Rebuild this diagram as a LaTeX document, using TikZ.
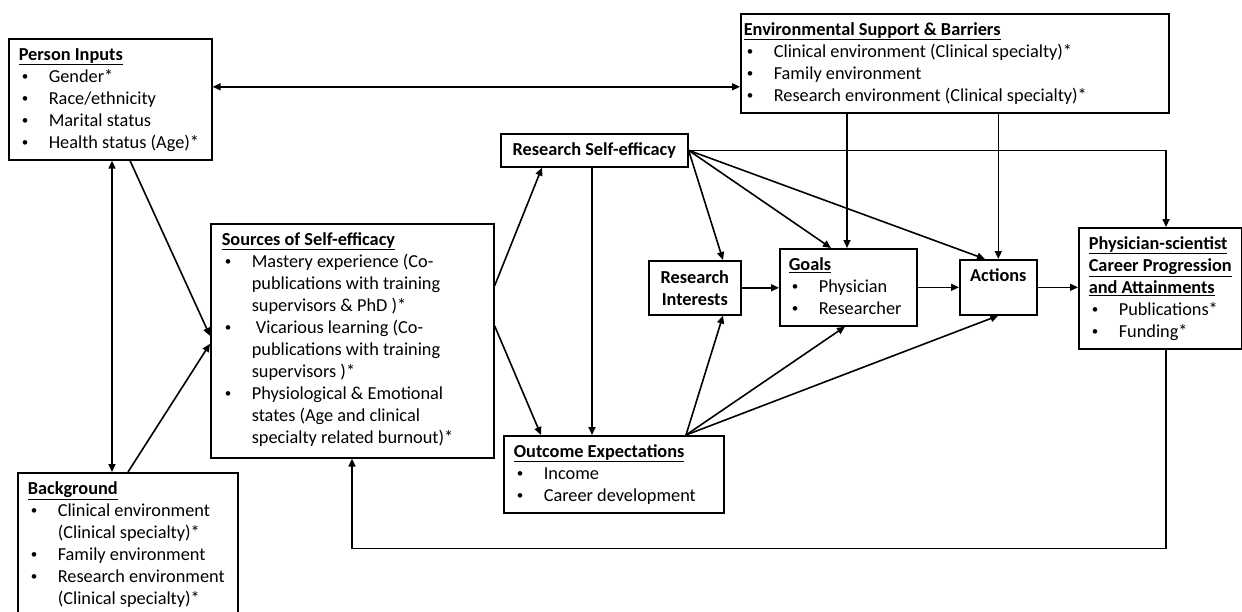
\documentclass[tikz,border=0pt]{standalone}
\usepackage{fontspec}
\setmainfont{Carlito}
\usetikzlibrary{arrows.meta}

\newcommand{\panelbody}[4]{\parbox[t][#2][t]{#1}{\raggedright\leftskip=#3\relax\vspace*{6pt}\strut#4}}
\newcommand{\ptitle}[1]{\underline{\textbf{#1}}}
\newcommand{\bitem}[1]{\par\hangindent=30pt\hangafter=1\noindent\makebox[30pt][l]{\hspace{3pt}\raisebox{1.5pt}{\fontsize{13}{13}\selectfont\textbullet}}#1}

\begin{document}
\begin{tikzpicture}[x=1pt,y=-1pt,
  panel/.style={draw,line width=1.6pt,inner sep=0pt,anchor=north west,font=\fontsize{18.3}{22}\selectfont},
  arr/.style={line width=1.6pt,-{Triangle[length=8pt,width=7pt]}},
  dbl/.style={line width=1.6pt,{Triangle[length=8pt,width=7pt]}-{Triangle[length=8pt,width=7pt]}}]
\useasboundingbox (0,0) rectangle (1242,611);

% boxes
\node[panel] (pin) at (8,38) {\panelbody{203pt}{121pt}{10pt}{\ptitle{Person Inputs}
  \bitem{Gender*}\bitem{Race/ethnicity}\bitem{Marital status}\bitem{Health status (Age)*}}};
\node[panel] (bg) at (17,472) {\panelbody{220pt}{160pt}{10pt}{\ptitle{Background}
  \bitem{Clinical environment\newline(Clinical specialty)*}\bitem{Family environment}
  \bitem{Research environment\newline(Clinical specialty)*}}};
\node[panel] (src) at (210,223) {\panelbody{283pt}{234pt}{11pt}{\ptitle{Sources of Self-efficacy}
  \bitem{Mastery experience (Co-\newline publications with training\newline supervisors \& PhD )*}
  \bitem{\ Vicarious learning (Co-\newline publications with training\newline supervisors )*}
  \bitem{Physiological \& Emotional\newline states (Age and clinical\newline specialty related burnout)*}}};
\node[panel] (env) at (740,13) {\panelbody{428pt}{99pt}{3pt}{\ptitle{Environmental Support \& Barriers}
  \bitem{Clinical environment (Clinical specialty)*}\bitem{Family environment}
  \bitem{Research environment (Clinical specialty)*}}};
\node[panel,font=\fontsize{18.3}{22}\selectfont\bfseries,minimum width=187pt,minimum height=33pt] (rse) at (500,133) {Research Self-efficacy};
\node[panel,font=\fontsize{18.3}{22}\selectfont\bfseries,minimum width=92pt,minimum height=54pt,align=center] (ri) at (648,260) {Research\\Interests};
\node[panel] (goals) at (779,248) {\panelbody{137pt}{77pt}{9pt}{\ptitle{Goals}\bitem{Physician}\bitem{Researcher}}};
\node[panel] (act) at (959,259) {\parbox[t][55pt][t]{77pt}{\centering\vspace*{6pt}\strut\textbf{Actions}}};
\node[panel] (phy) at (1078,227) {\panelbody{163pt}{121pt}{10pt}{\ptitle{Physician-scientist}\newline
  \ptitle{Career Progression}\newline\ptitle{and Attainments}
  \bitem{Publications*}\bitem{Funding*}}};
\node[panel] (out) at (503,435) {\panelbody{220pt}{77pt}{10pt}{\ptitle{Outcome Expectations}
  \bitem{Income}\bitem{Career development}}};

% connectors
\draw[dbl] ([yshift=12.5pt]pin.east) -- ([yshift=12.5pt]pin.east -| env.west);
\draw[dbl] ([xshift=104pt]pin.south west) -- ([xshift=104pt]pin.south west |- bg.north);
\draw[arr] ([xshift=122pt]pin.south west) -- ([yshift=5pt]src.west);
\draw[arr] ([xshift=111pt]bg.north west) -- ([yshift=-3pt]src.west);
\draw[arr] ([yshift=55pt]src.east) -- ([xshift=42pt]rse.south west);
\draw[arr] ([yshift=15pt]src.east) -- ([xshift=38pt]out.north west);
\draw[arr] ([xshift=92pt]rse.south west) -- ([xshift=92pt]rse.south west |- out.north);
\draw[arr] (rse.east) -- ([xshift=75pt]ri.north west);
\draw[arr] (rse.east) -- ([xshift=52pt]goals.north west);
\draw[arr] (rse.east) -- ([xshift=26pt]act.north west);
\draw[arr] (rse.east) -| ([xshift=88pt]phy.north west);
\draw[arr] ([xshift=68pt]goals.north west |- env.south) -- ([xshift=68pt]goals.north west);
\draw[arr] (act.north |- env.south) -- (act.north);
\draw[arr] (ri.east) -- (ri.east -| goals.west);
\draw[arr] (goals.east) -- (goals.east -| act.west);
\draw[arr] (act.east) -- (act.east -| phy.west);
\draw[arr] ([xshift=183pt]out.north west) -- ([xshift=75pt]ri.south west);
\draw[arr] ([xshift=183pt]out.north west) -- ([xshift=66pt]goals.south west);
\draw[arr] ([xshift=183pt]out.north west) -- (act.south);
\draw[arr] ([xshift=88pt]phy.south west) -- ++(0,199) -| ([xshift=142pt]src.south west);
\end{tikzpicture}
\end{document}
